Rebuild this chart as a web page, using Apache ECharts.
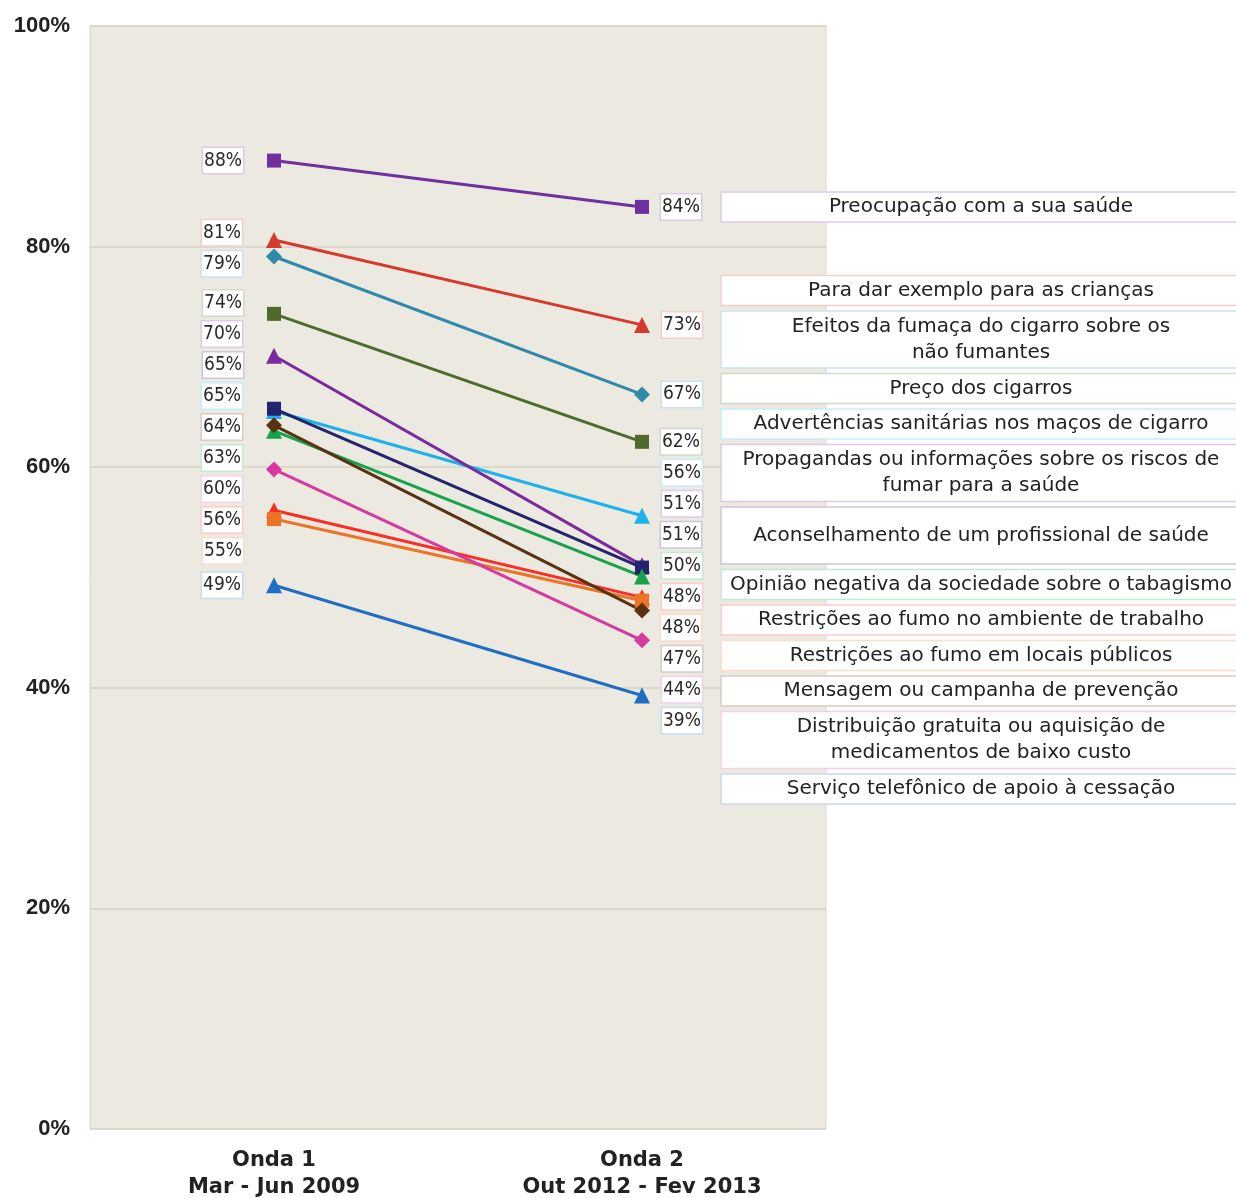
<!DOCTYPE html>
<html><head><meta charset="utf-8">
<script src="https://cdn.jsdelivr.net/npm/echarts@6/dist/echarts.min.js"></script>
<style>html,body{margin:0;padding:0;background:#fff}#c{width:1236px;height:1198px}</style>
</head><body><div id="c"></div>
<script>
// ---------------- data ----------------
const categories = ['Onda 1\nMar - Jun 2009', 'Onda 2\nOut 2012 - Fev 2013'];
const seriesNames = [
  'Preocupação com a sua saúde',
  'Para dar exemplo para as crianças',
  'Efeitos da fumaça do cigarro sobre os\nnão fumantes',
  'Preço dos cigarros',
  'Advertências sanitárias nos maços de cigarro',
  'Propagandas ou informações sobre os riscos de\nfumar para a saúde',
  'Aconselhamento de um profissional de saúde',
  'Opinião negativa da sociedade sobre o tabagismo',
  'Restrições ao fumo no ambiente de trabalho',
  'Restrições ao fumo em locais públicos',
  'Mensagem ou campanha de prevenção',
  'Distribuição gratuita ou aquisição de\nmedicamentos de baixo custo',
  'Serviço telefônico de apoio à cessação'
];
const onda1 = [87.8, 80.6, 79.1, 73.9, 65.1, 70.1, 65.3, 63.3, 56.1, 55.3, 63.8, 59.8, 49.3];
const onda2 = [83.6, 72.9, 66.6, 62.3, 55.6, 51.1, 50.9, 50.1, 48.2, 47.9, 47.0, 44.3, 39.3];

// ---------------- styles ----------------
const colors = ['#7030A0', '#D63A2A', '#2F8AAA', '#4F6B2B', '#1EB2EA', '#7A2A9E', '#24246E',
                '#17A24C', '#FA2E25', '#EC7426', '#5A3212', '#D8399F', '#1E6EC6'];
const symbols = ['rect', 'triangle', 'diamond', 'rect', 'triangle', 'triangle', 'rect',
                 'triangle', 'triangle', 'rect', 'diamond', 'diamond', 'triangle'];
const boxRows = [1, 1, 2, 1, 1, 2, 2, 1, 1, 1, 1, 2, 1];
const FONT_C = '"DejaVu Sans Condensed", "DejaVu Sans", sans-serif';
const FONT = '"DejaVu Sans", sans-serif';

function tint(hex, t) {
  const n = parseInt(hex.slice(1), 16);
  const r = (n >> 16) & 255, g = (n >> 8) & 255, b = n & 255;
  const m = c => Math.round(c + (255 - c) * t);
  return 'rgb(' + m(r) + ',' + m(g) + ',' + m(b) + ')';
}

function spread(ideals, heights, gap) {
  const idx = ideals.map((v, i) => i).sort((a, b) => ideals[a] - ideals[b] || a - b);
  const blocks = [];
  idx.forEach(i => {
    blocks.push({ ids: [i], rel: [heights[i] / 2], h: heights[i], top: ideals[i] - heights[i] / 2 });
    while (blocks.length > 1) {
      const p = blocks[blocks.length - 2], c = blocks[blocks.length - 1];
      if (p.top + p.h + gap <= c.top) break;
      const m = { ids: p.ids.concat(c.ids), rel: p.rel.concat(c.rel.map(r => r + p.h + gap)), h: p.h + gap + c.h };
      let s = 0;
      m.ids.forEach((id, k) => { s += ideals[id] - m.rel[k]; });
      m.top = s / m.ids.length;
      blocks.splice(-2, 2, m);
    }
  });
  const out = [];
  blocks.forEach(b => b.ids.forEach((id, k) => { out[id] = b.top + b.rel[k]; }));
  return out;
}

const labelBase = {
  show: true,
  formatter: p => Math.round(p.value) + '%',
  fontFamily: FONT_C, fontSize: 19, color: '#2a2a2a',
  backgroundColor: '#fff', borderWidth: 1.5,
  padding: [4, 1, 2, 1], lineHeight: 19
};

function buildSeries(offL, offR) {
  return seriesNames.map((name, i) => ({
    type: 'line', name: name,
    symbol: symbols[i],
    symbolSize: symbols[i] === 'rect' ? 14 : 16,
    lineStyle: { width: 3, color: colors[i] },
    itemStyle: { color: colors[i] },
    z: 2,
    data: [
      { value: onda1[i], label: Object.assign({}, labelBase, { position: 'left', distance: 24, offset: [0, offL[i]], borderColor: tint(colors[i], 0.75) }) },
      { value: onda2[i], label: Object.assign({}, labelBase, { position: 'right', distance: 12, offset: [0, offR[i]], borderColor: tint(colors[i], 0.75) }) }
    ]
  }));
}

const zeros = seriesNames.map(() => 0);
const chart = echarts.init(document.getElementById('c'));
const option = {
  animation: false,
  backgroundColor: '#fff',
  grid: { left: 90, right: 410, top: 26, bottom: 69, outerBoundsMode: 'none', containLabel: false,
          show: true, backgroundColor: '#ECE9E1', borderColor: '#D9D6CF', borderWidth: 1 },
  xAxis: {
    type: 'category', data: categories, boundaryGap: true,
    axisLine: { show: false }, axisTick: { show: false },
    axisLabel: { fontFamily: FONT, fontSize: 21, fontWeight: 'bold', color: '#222', lineHeight: 27, margin: 18 }
  },
  yAxis: {
    type: 'value', min: 0, max: 100, interval: 20,
    axisLine: { show: false }, axisTick: { show: false },
    axisLabel: { formatter: '{value}%', fontFamily: '"Liberation Sans", Arial, sans-serif', fontSize: 22, fontWeight: 'bold', color: '#222', margin: 20 },
    splitLine: { lineStyle: { color: '#D6D2C9', width: 1.5 } }
  },
  series: buildSeries(zeros, zeros)
};
chart.setOption(option);

// layout of value labels and name boxes, computed from axis pixel positions
const yL = onda1.map(v => chart.convertToPixel({ gridIndex: 0 }, [0, v])[1]);
const yR = onda2.map(v => chart.convertToPixel({ gridIndex: 0 }, [1, v])[1]);
const H = seriesNames.map(() => 26);
const tL = spread(yL, H, 5);
const tR = spread(yR, H, 5);
const offL = tL.map((t, i) => t - yL[i]);
const offR = tR.map((t, i) => t - yR[i]);

const boxH = boxRows.map(r => r === 2 ? 57 : 30);
const boxC = spread(tR, boxH, 5.5);
const graphics = seriesNames.map((name, i) => ({
  type: 'group', z: 100,
  children: [
    { type: 'rect', shape: { x: 721, y: boxC[i] - boxH[i] / 2, width: 530, height: boxH[i] },
      style: { fill: '#fff', stroke: tint(colors[i], 0.75), lineWidth: 1.5 } },
    { type: 'text', x: 981, y: boxC[i],
      style: { text: name, font: '20px ' + FONT, fill: '#222', align: 'center', verticalAlign: 'middle', lineHeight: 26 } }
  ]
}));

chart.setOption({ series: buildSeries(offL, offR), graphic: graphics });
</script>
</body></html>
